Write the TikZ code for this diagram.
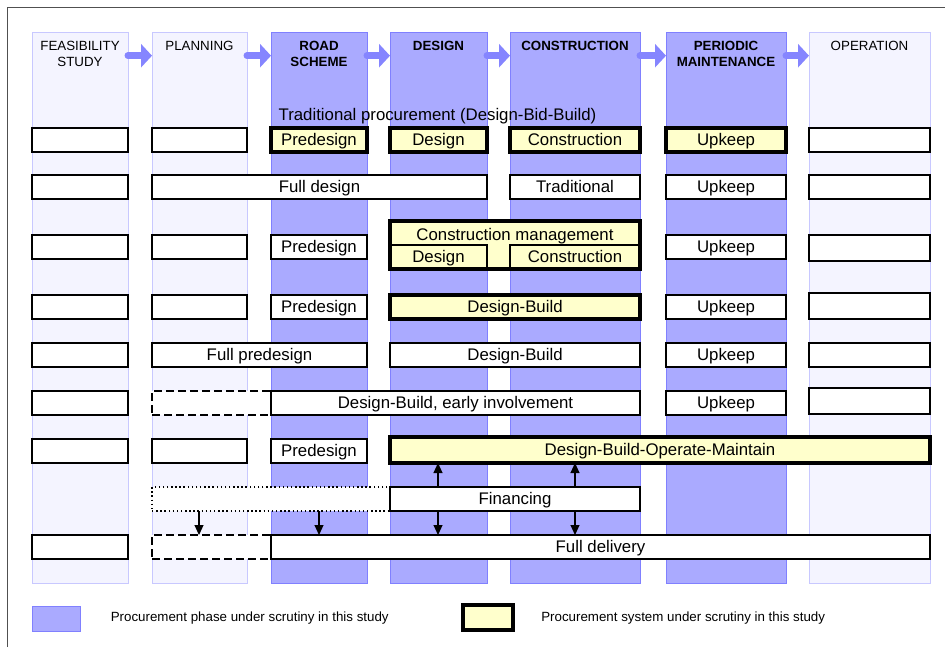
\documentclass[tikz,border=0pt]{standalone}
\usepackage{fontspec}
\setmainfont{Liberation Sans}
\usetikzlibrary{arrows.meta}
\definecolor{colDark}{HTML}{AAAAFF}
\definecolor{colDarkB}{HTML}{8080FF}
\definecolor{colLight}{HTML}{F4F4FF}
\definecolor{colLightB}{HTML}{C8C8FF}
\definecolor{arrowc}{HTML}{8585FF}
\definecolor{ylw}{HTML}{FFFFCC}
\definecolor{framec}{HTML}{505050}
\newcommand{\rowfont}{\fontsize{12.6}{15}\selectfont}
\newcommand{\hdrfont}{\fontsize{10}{12}\selectfont}
\newcommand{\B}[7]{\node[#1, minimum width={(#5-#3)*0.75pt}, minimum height={(#6-#4)*0.75pt}] (#2) at ({(#3+#5)/2},{(#4+#6)/2}) {#7};}
\tikzset{
  basebox/.style={rectangle, inner sep=0pt, outer sep=0pt, font=\rowfont, text height=9.4pt, text depth=1.9pt},
  wbox/.style={basebox, draw=black, fill=white, line width=0.8pt},
  tbox/.style={basebox, draw=black, fill=ylw, line width=2.4pt},
  ibox/.style={basebox, draw=black, line width=0.8pt},
  dashbox/.style={basebox, draw=black, fill=white, line width=1.1pt, dash pattern=on 6pt off 3pt},
  dotbox/.style={basebox, draw=black, fill=white, line width=1.1pt, dash pattern=on 1.1pt off 2pt},
  darkcol/.style={rectangle, inner sep=0pt, outer sep=0pt, fill=colDark, draw=colDarkB, line width=0.75pt},
  lightcol/.style={rectangle, inner sep=0pt, outer sep=0pt, fill=colLight, draw=colLightB, line width=0.75pt},
  hdr/.style={font=\hdrfont, inner sep=0pt, align=center, anchor=north},
  hdrb/.style={hdr, font=\hdrfont\bfseries},
  hdrarrow/.style={draw=arrowc, line width=5.25pt, line cap=round, -{Triangle[length=8.25pt,width=17.25pt]}},
  arr/.style={draw=black, line width=0.8pt, -{Triangle[length=7.5pt,width=6.75pt]}},
  lgtext/.style={font=\hdrfont, inner sep=0pt, anchor=base west},
}
\begin{document}
\begin{tikzpicture}[x=0.75pt,y=-0.75pt]
\useasboundingbox (0,0) rectangle (945,647);
\fill[white] (0,0) rectangle (945,647);
% frame
\draw[framec, line width=1.1pt] (7.5,647) -- (7.5,7.5) -- (945,7.5);
% columns
\B{lightcol}{kF}{32}{32}{128}{583}{}
\B{lightcol}{kP}{152}{32}{247}{583}{}
\B{darkcol}{kR}{271}{32}{367}{583}{}
\B{darkcol}{kD}{390}{32}{487}{583}{}
\B{darkcol}{kC}{510}{32}{640}{583}{}
\B{darkcol}{kM}{666}{32}{786}{583}{}
\B{lightcol}{kO}{809}{32}{930}{583}{}
\coordinate (hy) at (0,40.7);
\coordinate (ay) at (0,55.7);
\node[hdr] (hF) at (kF.north |- hy) {FEASIBILITY\\STUDY};
\node[hdr] (hP) at (kP.north |- hy) {PLANNING};
\node[hdrb] (hR) at (kR.north |- hy) {ROAD\\SCHEME};
\node[hdrb] (hD) at (kD.north |- hy) {DESIGN};
\node[hdrb] (hC) at (kC.north |- hy) {CONSTRUCTION};
\node[hdrb] (hM) at (kM.north |- hy) {PERIODIC\\MAINTENANCE};
\node[hdr] (hO) at (kO.north |- hy) {OPERATION};
\draw[hdrarrow] (kF.east |- ay) -- (kP.west |- ay);
\draw[hdrarrow] (kP.east |- ay) -- (kR.west |- ay);
\draw[hdrarrow] (kR.east |- ay) -- (kD.west |- ay);
\draw[hdrarrow] (kD.east |- ay) -- (kC.west |- ay);
\draw[hdrarrow] (kC.east |- ay) -- (kM.west |- ay);
\draw[hdrarrow] (kM.east |- ay) -- (kO.west |- ay);
% row 1
\node[font=\rowfont, inner sep=0pt, anchor=base] (trad) at (437.5,120.7) {Traditional procurement (Design-Bid-Build)};
\B{wbox}{f1}{32}{128}{128}{152}{}
\B{wbox}{p1}{152}{128}{247}{152}{}
\B{tbox}{r1}{271}{128}{367}{152}{Predesign}
\B{tbox}{d1}{390}{128}{487}{152}{Design}
\B{tbox}{c1}{510}{128}{640}{152}{Construction}
\B{tbox}{m1}{666}{128}{786}{152}{Upkeep}
\B{wbox}{o1}{809}{128}{930}{152}{}
% row 2
\B{wbox}{f2}{32}{175}{128}{199}{}
\B{wbox}{fd2}{152}{175}{487}{199}{Full design}
\B{wbox}{c2}{510}{175}{640}{199}{Traditional}
\B{wbox}{m2}{666}{175}{786}{199}{Upkeep}
\B{wbox}{o2}{809}{175}{930}{199}{}
% row 3
\B{wbox}{f3}{32}{235}{128}{259}{}
\B{wbox}{p3}{152}{235}{247}{259}{}
\B{wbox}{r3}{271}{235}{367}{259}{Predesign}
\B{tbox}{cm3}{390}{221}{640}{269}{}
\node[font=\rowfont, inner sep=0pt, anchor=base] (cmt) at (515,240) {Construction management};
\B{ibox}{d3}{390}{245}{487}{269}{Design}
\B{ibox}{c3}{510}{245}{640}{269}{Construction}
\draw[draw=black, line width=2.4pt] (cm3.north west) rectangle (cm3.south east);
\B{wbox}{m3}{666}{235}{786}{259}{Upkeep}
\B{wbox}{o3}{809}{235}{930}{261}{}
% row 4
\B{wbox}{f4}{32}{295}{128}{319}{}
\B{wbox}{p4}{152}{295}{247}{319}{}
\B{wbox}{r4}{271}{295}{367}{319}{Predesign}
\B{tbox}{db4}{390}{295}{640}{319}{Design-Build}
\B{wbox}{m4}{666}{295}{786}{319}{Upkeep}
\B{wbox}{o4}{809}{293}{930}{319}{}
% row 5
\B{wbox}{f5}{32}{343}{128}{367}{}
\B{wbox}{fp5}{152}{343}{367}{367}{Full predesign}
\B{wbox}{db5}{390}{343}{640}{367}{Design-Build}
\B{wbox}{m5}{666}{343}{786}{367}{Upkeep}
\B{wbox}{o5}{809}{343}{930}{367}{}
% row 6
\B{wbox}{f6}{32}{391}{128}{415}{}
\B{dashbox}{dash6}{152}{391}{271}{415}{}
\B{wbox}{ei6}{271}{391}{640}{415}{Design-Build, early involvement}
\B{wbox}{m6}{666}{391}{786}{415}{Upkeep}
\B{wbox}{o6}{809}{388}{930}{414}{}
% row 7
\B{wbox}{f7}{32}{439}{128}{463}{}
\B{wbox}{p7}{152}{439}{247}{463}{}
\B{wbox}{r7}{271}{439}{367}{463}{Predesign}
\B{tbox}{dbom}{390}{437}{930}{463}{Design-Build-Operate-Maintain}
% row 8
\B{dotbox}{dot8}{152}{487}{390}{511}{}
\B{wbox}{fin}{390}{487}{640}{511}{Financing}
% row 9
\B{wbox}{f9}{32}{535}{128}{559}{}
\B{dashbox}{dash9}{152}{535}{271}{559}{}
\B{wbox}{fd9}{271}{535}{930}{559}{Full delivery}
% arrows
\coordinate (ax1) at (199,0);
\coordinate (ax2) at (319,0);
\coordinate (ax3) at (438,0);
\coordinate (ax4) at (575,0);
\draw[arr] (fin.north -| ax3) -- (dbom.south -| ax3);
\draw[arr] (fin.north -| ax4) -- (dbom.south -| ax4);
\draw[arr] (dot8.south -| ax1) -- (dash9.north -| ax1);
\draw[arr] (dot8.south -| ax2) -- (fd9.north -| ax2);
\draw[arr] (fin.south -| ax3) -- (fd9.north -| ax3);
\draw[arr] (fin.south -| ax4) -- (fd9.north -| ax4);
% legend
\B{darkcol}{lg1}{32}{606}{80}{631}{}
\node[lgtext] (lt1) at (110.5,621.7) {Procurement phase under scrutiny in this study};
\B{tbox}{lg2}{463}{605}{513}{630}{}
\node[lgtext] (lt2) at (541,621.7) {Procurement system under scrutiny in this study};
\end{tikzpicture}
\end{document}
